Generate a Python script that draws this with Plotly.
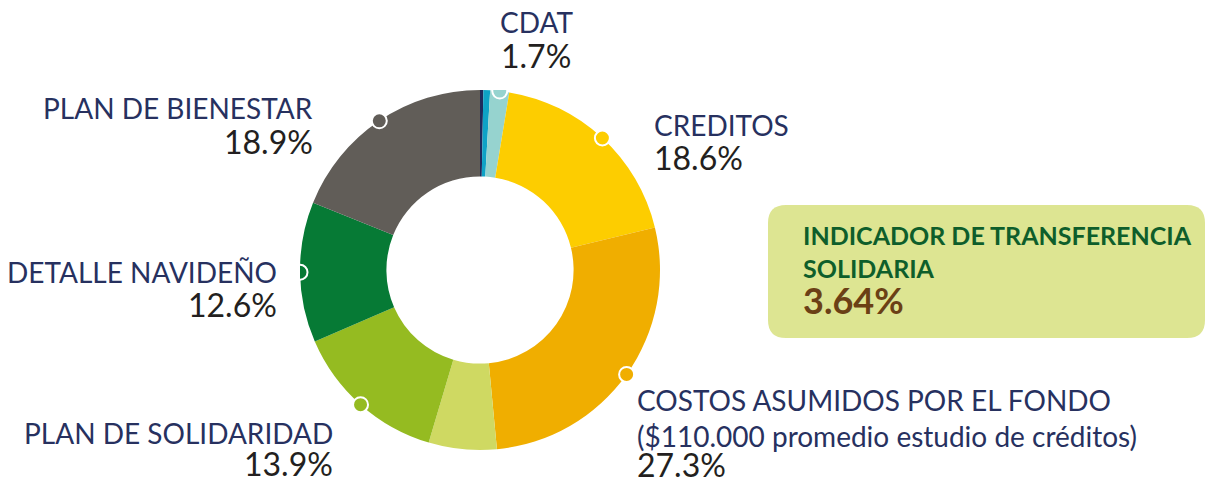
import math
import plotly.graph_objects as go

W, H = 1206, 483

# slices, clockwise from 12 o'clock
slice_names = ["Otro A", "Otro B", "CDAT", "CREDITOS", "COSTOS ASUMIDOS POR EL FONDO",
               "Otro C", "PLAN DE SOLIDARIDAD", "DETALLE NAVIDEÑO", "PLAN DE BIENESTAR"]
slice_values = [0.3, 0.6, 1.7, 18.6, 27.3, 6.1, 13.9, 12.6, 18.9]
slice_colors = ["#1f2a5c", "#0ea2c6", "#96d3cf", "#fdcd00", "#f0ae00",
                "#cfd962", "#95bb21", "#067a35", "#615d58"]
labeled = [False, False, True, True, True, False, True, True, True]

indicator_title = ["INDICADOR DE TRANSFERENCIA", "SOLIDARIA"]
indicator_value = "3.64%"

NAVY = "#27315f"
DARK = "#231f20"
FONT = "Lato"


def px(x):
    return x / W


def py(y):
    return 1 - y / H


# pie placement: centre (480, 270), radius 180
cx, cy, r = 480, 270, 180
dom_x = [px(cx - r), px(cx + r)]
dom_y = [py(cy + r), py(cy - r)]

fig = go.Figure()
fig.add_trace(go.Pie(
    labels=slice_names, values=slice_values, hole=0.52, sort=False,
    direction="clockwise", rotation=0, textinfo="none", hoverinfo="label+percent",
    marker=dict(colors=slice_colors, line=dict(width=0)),
    domain=dict(x=dom_x, y=dom_y), showlegend=False,
))

fig.update_layout(
    width=W, height=H, margin=dict(l=0, r=0, t=0, b=0),
    paper_bgcolor="white", plot_bgcolor="rgba(0,0,0,0)",
    xaxis=dict(domain=dom_x, range=[-1, 1], visible=False, fixedrange=True),
    yaxis=dict(domain=dom_y, range=[-1, 1], visible=False, fixedrange=True),
    font=dict(family=FONT),
)

# dots on the outer edge at slice midpoints (shapes sit above the pie layer)
total = sum(slice_values)
cum = 0
dot_r = 7.5 / r
for v, c, lab in zip(slice_values, slice_colors, labeled):
    mid = (cum + v / 2) / total * 2 * math.pi
    cum += v
    if lab:
        x, y = math.sin(mid), math.cos(mid)
        fig.add_shape(type="circle", xref="x", yref="y",
                      x0=x - dot_r, x1=x + dot_r, y0=y - dot_r, y1=y + dot_r,
                      fillcolor=c, line=dict(color="white", width=2), layer="above")


def pct(name):
    return f"{slice_values[slice_names.index(name)]:.1f}%"


def label(text, x, y, anchor, size=28, color=NAVY, bold=False):
    fig.add_annotation(
        x=px(x), y=py(y), xref="paper", yref="paper", text=text, showarrow=False,
        xanchor=anchor, yanchor="middle", borderpad=0,
        font=dict(family=FONT, size=size, color=color, weight="bold" if bold else "normal"),
    )


# slice labels
label("CDAT", 536, 22, "center")
label(pct("CDAT"), 536, 56, "center", size=32, color=DARK)
label("CREDITOS", 653, 125, "left")
label(pct("CREDITOS"), 653, 157, "left", size=32, color=DARK)
label("PLAN DE BIENESTAR", 314, 108, "right")
label(pct("PLAN DE BIENESTAR"), 314, 141, "right", size=32, color=DARK)
label("DETALLE NAVIDEÑO", 278, 272, "right")
label(pct("DETALLE NAVIDEÑO"), 278, 304, "right", size=32, color=DARK)
label("PLAN DE SOLIDARIDAD", 334, 433, "right")
label(pct("PLAN DE SOLIDARIDAD"), 334, 463, "right", size=32, color=DARK)
label("COSTOS ASUMIDOS POR EL FONDO", 636, 400, "left")
label("($110.000 promedio estudio de créditos)", 636, 436, "left")
label(pct("COSTOS ASUMIDOS POR EL FONDO"), 636, 464, "left", size=32, color=DARK)

# indicator box with rounded corners
x0, x1, y0, y1, rr = 768, 1205, 205, 338, 18
path = (f"M {px(x0 + rr)} {py(y0)} L {px(x1 - rr)} {py(y0)} "
        f"Q {px(x1)} {py(y0)} {px(x1)} {py(y0 + rr)} L {px(x1)} {py(y1 - rr)} "
        f"Q {px(x1)} {py(y1)} {px(x1 - rr)} {py(y1)} L {px(x0 + rr)} {py(y1)} "
        f"Q {px(x0)} {py(y1)} {px(x0)} {py(y1 - rr)} L {px(x0)} {py(y0 + rr)} "
        f"Q {px(x0)} {py(y0)} {px(x0 + rr)} {py(y0)} Z")
fig.add_shape(type="path", path=path, xref="paper", yref="paper",
              fillcolor="#dde592", line=dict(width=0), layer="below")

label(indicator_title[0], 802, 235, "left", size=25, color="#0e5e2b", bold=True)
label(indicator_title[1], 802, 268, "left", size=25, color="#0e5e2b", bold=True)
label(indicator_value, 802, 300, "left", size=36, color="#6b4015", bold=True)

fig.write_html("out.html", config={"displayModeBar": False},
               post_script="document.body.style.margin='0px';")
